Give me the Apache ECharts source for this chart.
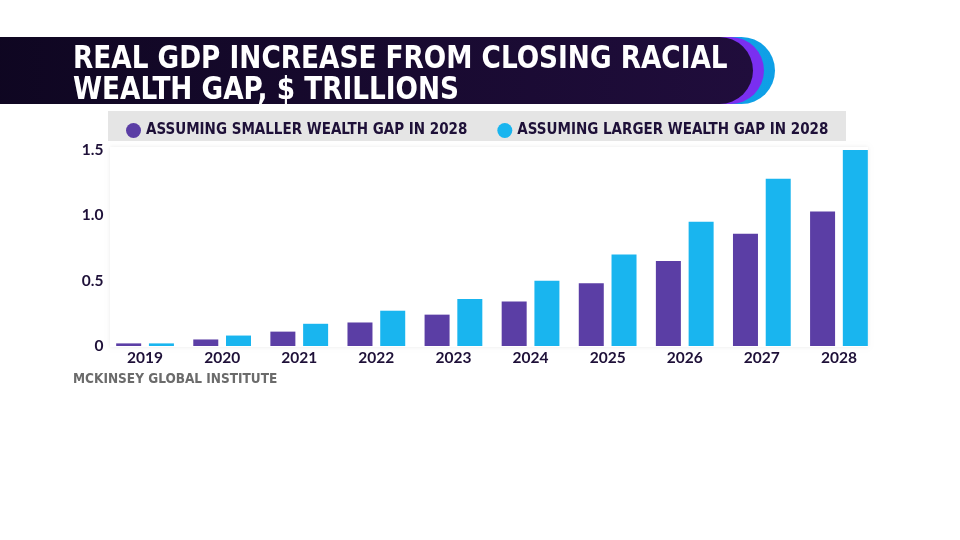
<!DOCTYPE html>
<html><head><meta charset="utf-8">
<script src="https://cdn.jsdelivr.net/npm/echarts@6/dist/echarts.min.js"></script>
<style>html,body{margin:0;padding:0;background:#fff}#c{width:960px;height:540px}</style>
</head><body><div id="c"></div>
<script>
const categories = ['2019','2020','2021','2022','2023','2024','2025','2026','2027','2028'];
const smallerGap = [0.02, 0.05, 0.11, 0.18, 0.24, 0.34, 0.48, 0.65, 0.86, 1.03];
const largerGap  = [0.02, 0.08, 0.17, 0.27, 0.36, 0.50, 0.70, 0.95, 1.28, 1.50];
const yTicks = ['0','0.5','1.0','1.5'];
const seriesNames = ['ASSUMING SMALLER WEALTH GAP IN 2028','ASSUMING LARGER WEALTH GAP IN 2028'];
const titleText = 'REAL GDP INCREASE FROM CLOSING RACIAL\nWEALTH GAP, $ TRILLIONS';
const sourceText = 'MCKINSEY GLOBAL INSTITUTE';

const condensed = '"DejaVu Sans Condensed", "DejaVu Sans", sans-serif';
const chart = echarts.init(document.getElementById('c'), null, {renderer:'canvas'});
chart.setOption({
  animation:false,
  backgroundColor:'#fff',
  graphic:[
    {type:'rect', z:-10, shape:{x:-40,y:37,width:815,height:67,r:33.5},
     style:{fill:new echarts.graphic.LinearGradient(0,0,1,1,[{offset:0,color:'#22b8f2'},{offset:1,color:'#0e9fe6'}])}},
    {type:'rect', z:-9, shape:{x:-40,y:37,width:804,height:67,r:33.5},
     style:{fill:'#7a2ff0'}},
    {type:'rect', z:-8, shape:{x:-40,y:37,width:793,height:67,r:33.5},
     style:{fill:new echarts.graphic.LinearGradient(0,0,1,0,[{offset:0,color:'#0e0620'},{offset:1,color:'#200d3c'}])}},
    {type:'rect', z:-7, shape:{x:108,y:111,width:738,height:30},
     style:{fill:'#e5e5e5'}},
    {type:'rect', z:-7, shape:{x:110,y:147,width:758,height:200},
     style:{fill:'#fff', shadowBlur:4, shadowColor:'rgba(0,0,0,0.08)'}},
    {type:'text', x:73, y:44, scaleX:0.915, z:5,
     style:{text:titleText, fill:'#fff', font:'bold 32px '+condensed, lineHeight:31}},
    {type:'text', x:73, y:372, style:{text:sourceText, fill:'#6b6b6b', font:'bold 13.5px '+condensed}}
  ],
  legend:{
    left:121, top:118, itemGap:30, itemWidth:15, itemHeight:15, icon:'circle',
    textStyle:{color:'#1e1038', fontSize:15, fontWeight:'bold', fontFamily:condensed},
    data:seriesNames
  },
  grid:{left:106.5, right:82.5, top:150, bottom:194, containLabel:false},
  xAxis:{
    type:'category', data:categories,
    axisLine:{show:false}, axisTick:{show:false},
    axisLabel:{color:'#1e1038', fontSize:15.5, fontWeight:'bold', fontFamily:'Lato, sans-serif', margin:4}
  },
  yAxis:{
    type:'value', min:0, max:1.5, interval:0.5,
    splitLine:{show:false}, axisLine:{show:false}, axisTick:{show:false},
    axisLabel:{color:'#1e1038', fontSize:15.5, fontWeight:'bold', fontFamily:'Lato, sans-serif', margin:3,
      formatter:(v)=>yTicks[Math.round(v/0.5)]}
  },
  series:[
    {name:seriesNames[0], type:'bar', data:smallerGap, barWidth:25, barGap:'31%', itemStyle:{color:'#5b3ea5'}},
    {name:seriesNames[1], type:'bar', data:largerGap, barWidth:25, barGap:'31%', itemStyle:{color:'#19b5ef'}}
  ]
});
</script></body></html>
